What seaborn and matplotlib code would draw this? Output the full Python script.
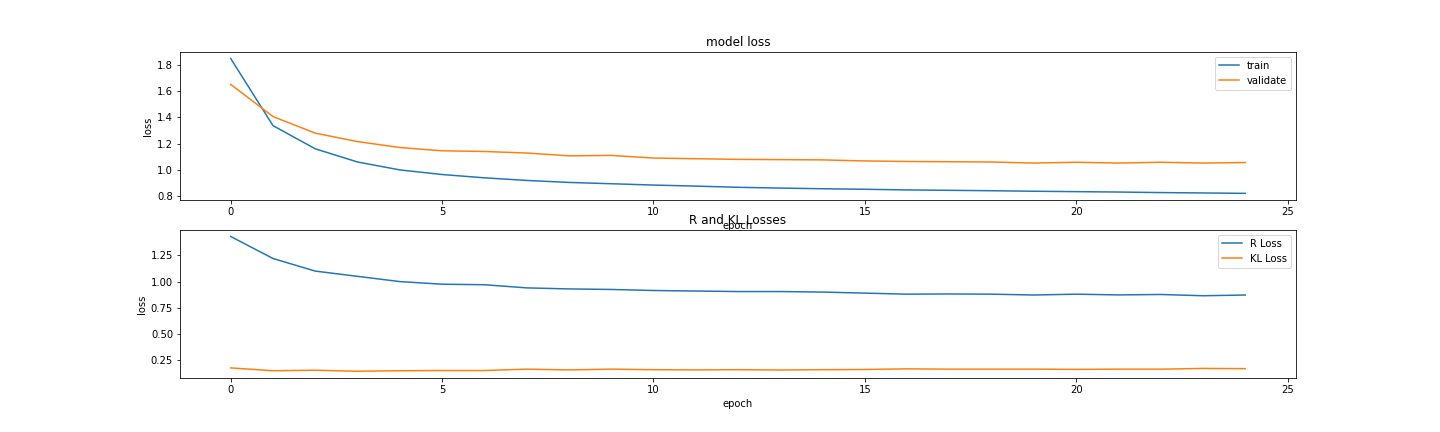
import numpy as np
import pandas as pd
import seaborn as sns
import matplotlib
matplotlib.use("Agg")
import matplotlib.pyplot as plt

# valores (25 epocas)
epochs = list(range(25))

train_loss = [1.845, 1.336, 1.160, 1.060, 1.000, 0.965, 0.940, 0.920, 0.905, 0.895,
              0.885, 0.877, 0.868, 0.862, 0.857, 0.853, 0.848, 0.845, 0.842, 0.838,
              0.835, 0.832, 0.828, 0.825, 0.822]
val_loss = [1.649, 1.405, 1.279, 1.215, 1.170, 1.145, 1.140, 1.128, 1.107, 1.110,
            1.090, 1.085, 1.080, 1.078, 1.076, 1.068, 1.064, 1.062, 1.060, 1.052,
            1.058, 1.052, 1.058, 1.052, 1.056]

r_loss = [1.430, 1.220, 1.100, 1.050, 1.000, 0.975, 0.970, 0.940, 0.930, 0.925,
          0.915, 0.910, 0.905, 0.905, 0.900, 0.890, 0.880, 0.882, 0.880, 0.872,
          0.880, 0.873, 0.877, 0.865, 0.872]
kl_loss = [0.177, 0.150, 0.155, 0.145, 0.150, 0.152, 0.152, 0.165, 0.158, 0.165,
           0.160, 0.158, 0.160, 0.157, 0.160, 0.162, 0.168, 0.165, 0.165, 0.165,
           0.163, 0.165, 0.165, 0.172, 0.170]

df_top = pd.DataFrame({"epoch": epochs * 2,
                       "loss": train_loss + val_loss,
                       "serie": ["train"] * 25 + ["validate"] * 25})
df_bot = pd.DataFrame({"epoch": epochs * 2,
                       "loss": r_loss + kl_loss,
                       "serie": ["R Loss"] * 25 + ["KL Loss"] * 25})

plt.rcParams["font.family"] = ["DejaVu Sans"]

fig, (ax1, ax2) = plt.subplots(2, 1, figsize=(20, 6), dpi=72)
fig.subplots_adjust(left=0.125, right=0.9, top=0.88, bottom=0.125, hspace=0.2)

pal = ["#1f77b4", "#ff7f0e"]

sns.lineplot(data=df_top, x="epoch", y="loss", hue="serie", palette=pal, ax=ax1)
ax1.set_title("model loss")
ax1.set_xlabel("epoch")
ax1.set_ylabel("loss")
ax1.legend(loc="upper right")

sns.lineplot(data=df_bot, x="epoch", y="loss", hue="serie", palette=pal, ax=ax2)
ax2.set_title("R and KL Losses")
ax2.set_xlabel("epoch")
ax2.set_ylabel("loss")
ax2.legend(loc="upper right")

for ax in (ax1, ax2):
    ax.set_xticks([0, 5, 10, 15, 20, 25])

fig.savefig("out.png", dpi=72)
